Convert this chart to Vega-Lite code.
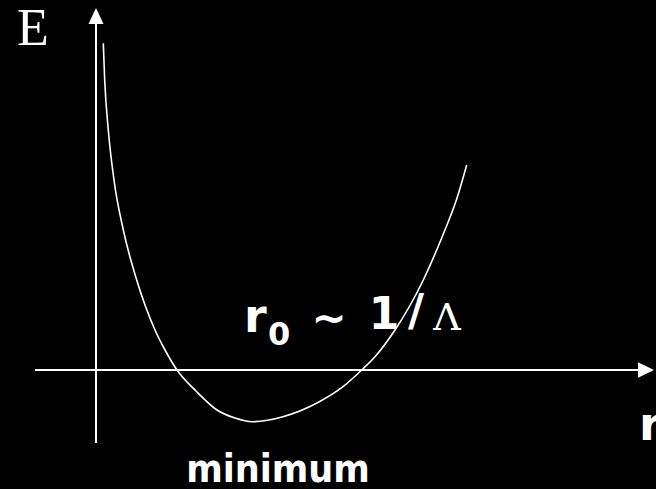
{
  "$schema": "https://vega.github.io/schema/vega-lite/v6.json",
  "width": 656,
  "height": 489,
  "padding": 0,
  "autosize": "none",
  "background": "black",
  "config": {"view": {"stroke": null}},
  "encoding": {
    "x": {"type": "quantitative", "scale": {"domain": [-0.96, 5.60], "nice": false, "zero": false}, "axis": null},
    "y": {"type": "quantitative", "scale": {"domain": [-1.19, 3.70], "nice": false, "zero": false}, "axis": null}
  },
  "layer": [
    {
      "data": {"values": [
        {"r": 0.073, "E": 3.267},
        {"r": 0.087, "E": 2.90},
        {"r": 0.123, "E": 2.40},
        {"r": 0.18, "E": 1.90},
        {"r": 0.273, "E": 1.40},
        {"r": 0.407, "E": 0.90},
        {"r": 0.59, "E": 0.40},
        {"r": 0.69, "E": 0.20},
        {"r": 0.81, "E": 0.0},
        {"r": 1.00, "E": -0.21},
        {"r": 1.21, "E": -0.40},
        {"r": 1.39, "E": -0.48},
        {"r": 1.56, "E": -0.517},
        {"r": 1.87, "E": -0.467},
        {"r": 2.21, "E": -0.33},
        {"r": 2.47, "E": -0.167},
        {"r": 2.657, "E": 0.0},
        {"r": 2.79, "E": 0.133},
        {"r": 2.99, "E": 0.40},
        {"r": 3.273, "E": 0.90},
        {"r": 3.473, "E": 1.36},
        {"r": 3.607, "E": 1.71},
        {"r": 3.707, "E": 2.05}
      ]},
      "mark": {"type": "line", "color": "white", "strokeWidth": 1.6, "interpolate": "monotone"},
      "encoding": {
        "x": {"field": "r", "type": "quantitative"},
        "y": {"field": "E", "type": "quantitative"}
      }
    },
    {
      "data": {"values": [{"axis": "r"}]},
      "mark": {"type": "rule", "color": "white", "strokeWidth": 2},
      "encoding": {"x": {"datum": -0.61}, "x2": {"datum": 5.45}, "y": {"datum": 0}}
    },
    {
      "data": {"values": [{"axis": "E"}]},
      "mark": {"type": "rule", "color": "white", "strokeWidth": 2},
      "encoding": {"x": {"datum": 0}, "y": {"datum": -0.73}, "y2": {"datum": 3.50}}
    },
    {
      "data": {"values": [{"axis": "E"}]},
      "mark": {"type": "point", "filled": true, "color": "white", "opacity": 1, "size": 256, "shape": "M0,-1L0.94,1L-0.94,1Z"},
      "encoding": {"x": {"datum": 0}, "y": {"datum": 3.54}}
    },
    {
      "data": {"values": [{"axis": "r"}]},
      "mark": {"type": "point", "filled": true, "color": "white", "opacity": 1, "size": 256, "shape": "M1,0L-1,-0.97L-1,0.97Z"},
      "encoding": {"x": {"datum": 5.50}, "y": {"datum": 0}}
    },
    {
      "data": {"values": [{"label": "E"}]},
      "mark": {"type": "text", "color": "white", "font": "Liberation Serif", "fontSize": 52, "align": "left", "baseline": "alphabetic"},
      "encoding": {"x": {"datum": -0.79}, "y": {"datum": 3.25}, "text": {"field": "label"}}
    },
    {
      "data": {"values": [{"label": "r"}]},
      "mark": {"type": "text", "color": "white", "font": "DejaVu Sans", "fontWeight": "bold", "fontSize": 46, "align": "left", "baseline": "alphabetic"},
      "encoding": {"x": {"datum": 1.48}, "y": {"datum": 0.385}, "text": {"field": "label"}}
    },
    {
      "data": {"values": [{"label": "0"}]},
      "mark": {"type": "text", "color": "white", "font": "DejaVu Sans", "fontWeight": "bold", "fontSize": 32, "align": "center", "baseline": "alphabetic"},
      "encoding": {"x": {"datum": 1.83}, "y": {"datum": 0.25}, "text": {"field": "label"}}
    },
    {
      "data": {"values": [{"label": "~"}]},
      "mark": {"type": "text", "color": "white", "font": "DejaVu Sans", "fontWeight": "bold", "fontSize": 42, "align": "center", "baseline": "alphabetic"},
      "encoding": {"x": {"datum": 2.33}, "y": {"datum": 0.37}, "text": {"field": "label"}}
    },
    {
      "data": {"values": [{"label": "1"}]},
      "mark": {"type": "text", "color": "white", "font": "DejaVu Sans", "fontWeight": "bold", "fontSize": 44, "align": "center", "baseline": "alphabetic"},
      "encoding": {"x": {"datum": 2.88}, "y": {"datum": 0.407}, "text": {"field": "label"}}
    },
    {
      "data": {"values": [{"label": "/"}]},
      "mark": {"type": "text", "color": "white", "font": "DejaVu Sans", "fontWeight": "bold", "fontSize": 44, "align": "center", "baseline": "alphabetic"},
      "encoding": {"x": {"datum": 3.20}, "y": {"datum": 0.44}, "text": {"field": "label"}}
    },
    {
      "data": {"values": [{"label": "Λ"}]},
      "mark": {"type": "text", "color": "white", "font": "DejaVu Serif", "fontSize": 38, "align": "center", "baseline": "alphabetic"},
      "encoding": {"x": {"datum": 3.51}, "y": {"datum": 0.405}, "text": {"field": "label"}}
    },
    {
      "data": {"values": [{"label": "minimum"}]},
      "mark": {"type": "text", "color": "white", "font": "DejaVu Sans Condensed, DejaVu Sans", "fontWeight": "bold", "fontSize": 39, "align": "center", "baseline": "alphabetic"},
      "encoding": {"x": {"datum": 1.82}, "y": {"datum": -1.12}, "text": {"field": "label"}}
    },
    {
      "data": {"values": [{"label": "r"}]},
      "mark": {"type": "text", "color": "white", "font": "DejaVu Sans", "fontWeight": "bold", "fontSize": 46, "align": "left", "baseline": "alphabetic"},
      "encoding": {"x": {"datum": 5.43}, "y": {"datum": -0.70}, "text": {"field": "label"}}
    }
  ]
}
